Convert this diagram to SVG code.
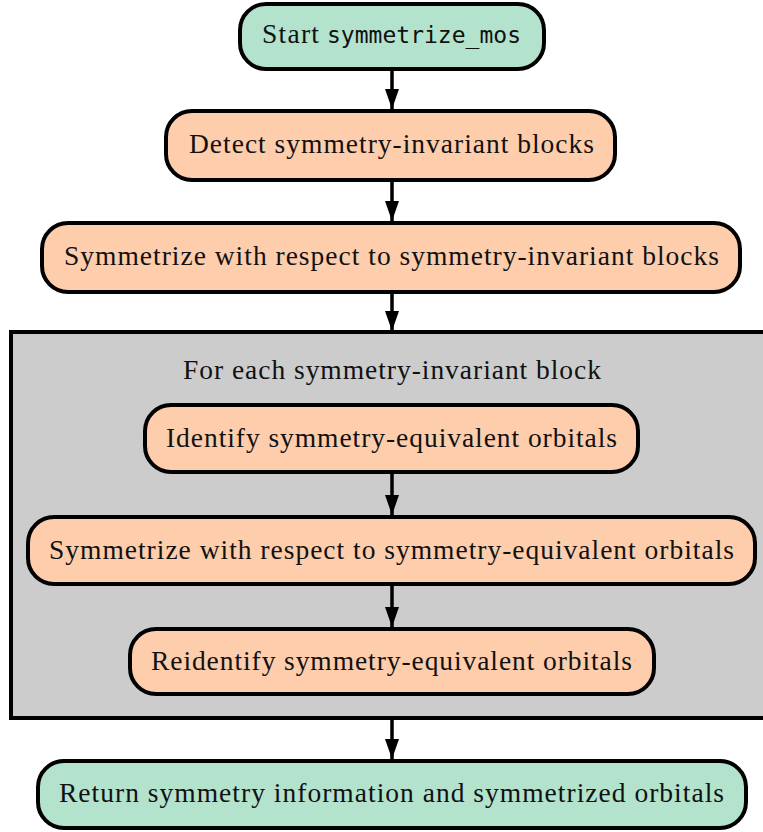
<svg xmlns="http://www.w3.org/2000/svg" width="763" height="832" viewBox="0 0 763 832">
  <defs>
    <marker id="arrow" viewBox="0 0 20 14" refX="20" refY="7" markerWidth="20" markerHeight="14" markerUnits="userSpaceOnUse" orient="auto">
      <path d="M0,0 L20,7 L0,14 z" fill="#000"/>
    </marker>
    <style>
      .node { stroke: #000; stroke-width: 4; }
      .start { fill: #b3e2cd; }
      .step { fill: #fdcdac; }
      .group { fill: #cccccc; stroke: #000; stroke-width: 4; }
      text { font-family: "Liberation Serif", "Times New Roman", serif; font-size: 27.5px; fill: #111; text-anchor: middle; }
      .mono { font-family: "DejaVu Sans Mono", "Liberation Mono", monospace; font-size: 23px; text-anchor: start; }
      .left { text-anchor: start; }
      .edge { stroke: #000; stroke-width: 3.5; fill: none; marker-end: url(#arrow); }
    </style>
  </defs>

  <g id="loop">
    <rect class="group" x="11" y="332" width="760" height="386"/>
    <text x="392" y="379" textLength="418" lengthAdjust="spacing">For each symmetry-invariant block</text>
  </g>

  <g id="edges">
    <path class="edge" d="M392,70 L392,109"/>
    <path class="edge" d="M392,182 L392,221"/>
    <path class="edge" d="M392,294 L392,331"/>
    <path class="edge" d="M392,474 L392,515"/>
    <path class="edge" d="M392,586 L392,627"/>
    <path class="edge" d="M392,720 L392,759"/>
  </g>

  <g id="start">
    <rect class="node start" x="240" y="4" width="304" height="65" rx="26"/>
    <text class="left" x="262" y="43" textLength="57" lengthAdjust="spacing">Start</text>
    <text class="mono" x="327" y="43" textLength="194" lengthAdjust="spacing">symmetrize_mos</text>
  </g>

  <g id="detect">
    <rect class="node step" x="166" y="111" width="449" height="69" rx="26"/>
    <text x="391.5" y="153" textLength="405" lengthAdjust="spacing">Detect symmetry-invariant blocks</text>
  </g>

  <g id="symmetrize-invariant">
    <rect class="node step" x="42" y="223" width="698" height="69" rx="26"/>
    <text x="391.5" y="265" textLength="655" lengthAdjust="spacing">Symmetrize with respect to symmetry-invariant blocks</text>
  </g>

  <g id="identify">
    <rect class="node step" x="145" y="405" width="493" height="67" rx="26"/>
    <text x="391.5" y="447" textLength="451" lengthAdjust="spacing">Identify symmetry-equivalent orbitals</text>
  </g>

  <g id="symmetrize-equivalent">
    <rect class="node step" x="28" y="517" width="727" height="67" rx="26"/>
    <text x="391.5" y="559" textLength="685" lengthAdjust="spacing">Symmetrize with respect to symmetry-equivalent orbitals</text>
  </g>

  <g id="reidentify">
    <rect class="node step" x="130" y="629" width="524" height="65" rx="26"/>
    <text x="391.5" y="670" textLength="481" lengthAdjust="spacing">Reidentify symmetry-equivalent orbitals</text>
  </g>

  <g id="return">
    <rect class="node start" x="38" y="761" width="708" height="67" rx="26"/>
    <text x="391.5" y="802" textLength="665" lengthAdjust="spacing">Return symmetry information and symmetrized orbitals</text>
  </g>
</svg>
